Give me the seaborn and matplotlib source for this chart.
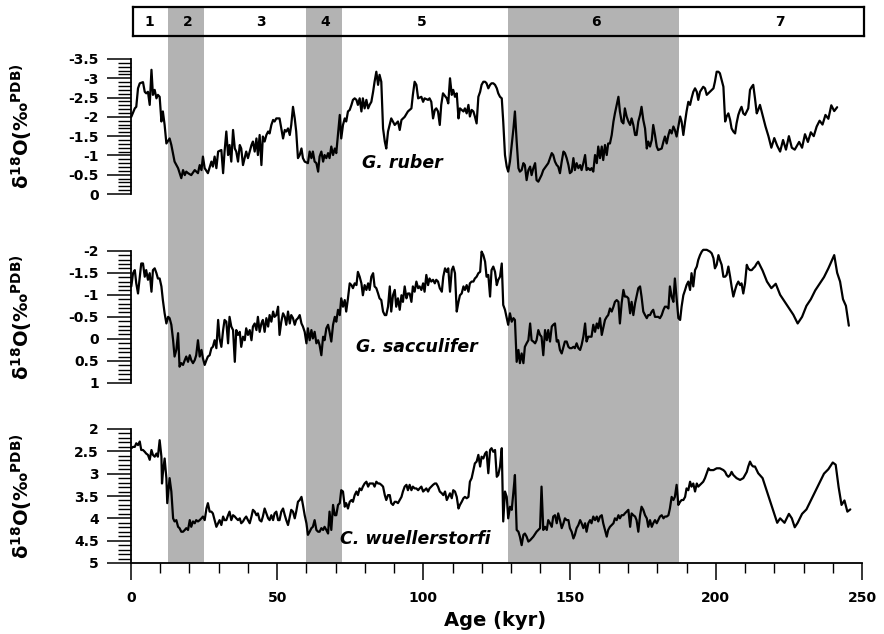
import matplotlib
matplotlib.use("Agg")
import matplotlib.pyplot as plt
import seaborn as sns
import pandas as pd
from matplotlib.ticker import MultipleLocator

# ---------------- data ----------------
# MIS stages
mis_labels = ["1", "2", "3", "4", "5", "6", "7"]
mis_bounds = [0, 12.6, 25.0, 60.0, 72.0, 129.0, 187.3, 250]
mis_label_x = [6.2, 19.5, 44.6, 66.3, 99.6, 158.9, 222.0]
mis_shaded = [False, True, False, True, False, True, False]

# G. ruber
ruber_age_a = [0.1, 1.3, 1.8, 2.4, 3.0, 4.1, 4.7, 5.2, 5.8, 6.4,
               7.0, 7.5, 8.1, 8.7, 9.2, 9.8, 10.4, 10.9, 11.5, 12.1,
               13.2, 13.8, 14.9, 16.1, 17.2, 17.8, 18.4, 18.9, 19.5, 20.6,
               21.8, 22.9, 23.5, 24.1, 24.6, 25.2, 26.3, 27.5, 28.0, 28.6,
               29.2, 29.8, 30.9, 31.5, 32.0, 32.6, 33.2, 33.7, 34.3, 34.9,
               35.5, 36.0, 36.6, 37.2, 37.7, 38.3, 39.4, 40.0, 41.2, 41.7,
               42.3, 42.9, 43.4, 44.0, 44.6, 45.1, 45.7, 46.3, 46.9, 47.4,
               48.0, 48.6, 49.1, 49.7, 50.8, 51.4, 52.0, 52.6, 53.1, 53.7,
               54.3, 54.8, 55.4, 56.0, 56.5, 57.1, 57.7, 58.3, 58.8, 59.4,
               60.5, 61.1, 61.7, 62.2, 62.8, 63.4, 64.0, 64.5, 65.1, 65.7,
               66.2, 66.8, 67.4, 67.9, 68.5, 69.1, 69.7, 70.2, 70.8, 71.4,
               71.9, 72.5, 73.1, 73.6, 74.2, 74.8, 75.4, 75.9, 76.5, 77.1,
               77.6, 78.2, 78.8, 79.3, 79.9, 80.5, 81.1, 81.6, 82.2, 82.8,
               83.3, 83.9, 84.5, 85.0, 85.6, 86.2, 86.8, 87.3, 87.9, 89.0,
               90.2, 91.3, 91.9, 92.5, 93.6, 94.7, 95.9, 96.4, 97.0, 97.6,
               98.2, 99.3, 99.9, 100.4, 101.6, 102.1, 102.7, 103.3, 103.9, 104.4,
               105.0, 105.6, 106.1, 106.7]
ruber_val_a = [-2.00, -2.22, -2.26, -2.74, -2.87, -2.90, -2.65, -2.61, -2.65, -2.31,
               -3.22, -2.57, -2.70, -2.48, -2.57, -2.52, -1.88, -2.14, -1.79, -1.31,
               -1.44, -1.27, -0.84, -0.67, -0.41, -0.62, -0.49, -0.58, -0.54, -0.49,
               -0.62, -0.54, -0.75, -0.62, -0.97, -0.67, -0.54, -0.84, -0.71, -0.97,
               -0.67, -1.10, -1.14, -0.54, -1.10, -1.62, -1.01, -1.27, -0.84, -1.66,
               -1.18, -1.10, -0.84, -1.27, -1.18, -0.75, -1.10, -0.93, -1.27, -1.36,
               -1.10, -1.44, -1.01, -1.53, -0.75, -1.49, -1.36, -1.53, -1.62, -1.57,
               -1.79, -1.92, -1.88, -1.96, -1.96, -1.70, -1.44, -1.66, -1.62, -1.70,
               -1.53, -1.79, -2.26, -1.96, -1.62, -0.93, -1.01, -1.18, -0.93, -0.84,
               -0.80, -1.10, -0.93, -1.10, -0.84, -0.80, -0.58, -0.97, -1.10, -0.84,
               -1.01, -0.93, -1.06, -0.93, -1.23, -1.01, -1.18, -1.06, -1.57, -2.05,
               -1.44, -1.79, -1.96, -1.88, -2.14, -2.18, -2.31, -2.44, -2.48, -2.44,
               -2.31, -2.48, -2.14, -2.48, -2.22, -2.44, -2.22, -2.31, -2.39, -2.65,
               -2.91, -3.17, -2.83, -3.09, -2.91, -1.70, -1.36, -1.18, -1.62, -1.96,
               -1.79, -1.88, -1.66, -1.92, -2.00, -2.14, -2.22, -2.57, -2.91, -2.83,
               -2.48, -2.52, -2.39, -2.48, -2.44, -2.48, -2.39, -1.96, -2.18, -2.22,
               -2.14, -1.79, -2.31, -2.61]
ruber_age_b = [108.0, 108.5, 109.1, 109.7, 110.2, 110.8, 111.4, 112.0, 112.5, 113.1,
               113.7, 114.2, 114.8, 115.4, 115.9, 116.5, 117.1, 117.6, 118.2, 118.8,
               119.4, 119.9, 120.5, 121.1, 121.6, 122.2, 122.8, 123.3, 123.9, 124.5,
               125.1, 125.6, 126.2, 126.8, 127.3, 127.9, 128.5, 129.0, 129.6, 130.2,
               130.8, 131.3, 131.9, 132.5, 133.0, 133.6, 134.2, 134.7, 135.3, 135.9,
               136.5, 137.0, 137.6, 138.2, 138.7, 139.3, 140.4, 141.0, 142.2, 142.7,
               143.3, 143.9, 144.4, 145.0, 145.6, 146.1, 146.7, 147.3, 147.9, 148.4,
               149.0, 149.6, 150.1, 150.7, 151.3, 151.8, 152.4, 153.0, 153.6, 154.1,
               154.7, 155.3, 155.8, 156.4, 157.0, 157.5, 158.1, 158.7, 159.3, 159.8,
               160.4, 161.0, 161.5, 162.1, 162.7, 163.2, 163.8, 164.4, 165.0, 165.5,
               166.1, 166.7, 167.2, 167.8, 168.4, 168.9, 169.5, 170.1, 170.7, 171.2,
               171.8, 172.4, 172.9, 173.5, 174.1, 174.6, 175.2, 175.8, 176.4, 176.9,
               177.5, 178.1, 178.6, 179.2, 179.8, 180.3, 181.5, 182.1, 182.6, 183.2,
               183.8, 184.3, 184.9, 185.5, 186.0, 186.6, 187.2, 187.8, 188.3, 188.9,
               189.5, 190.0, 190.6, 191.2, 191.7, 192.3, 192.9, 193.5, 194.0, 194.6,
               195.7, 196.3, 196.9, 198.0, 199.2, 199.7, 200.3, 200.9, 201.4, 202.0,
               202.6, 203.2, 203.7, 204.3, 204.9, 205.4, 206.0, 206.6, 207.1, 207.7,
               208.3, 208.8, 209.4, 210.0, 210.6, 211.1, 211.7, 212.3, 212.8, 213.4,
               214.0, 214.5, 215.1,
               216.0, 217.0, 218.0, 219.0, 220.0, 221.0, 222.0, 223.0, 224.0, 225.0,
               226.0, 227.0, 228.5, 229.5, 230.5, 231.5, 232.5, 233.5, 234.5, 235.5,
               236.5, 237.5, 238.5, 239.5, 240.5, 241.5]
ruber_val_b = [-2.48, -2.35, -3.00, -2.57, -2.70, -2.52, -2.61, -1.96, -2.22, -2.18,
               -2.14, -2.22, -2.09, -2.31, -2.01, -2.18, -2.14, -2.01, -1.83, -2.52,
               -2.65, -2.83, -2.91, -2.91, -2.87, -2.74, -2.83, -2.87, -2.87, -2.83,
               -2.74, -2.61, -2.52, -2.48, -1.88, -1.01, -0.71, -0.58, -0.84, -1.27,
               -1.70, -2.14, -1.36, -0.67, -0.58, -0.62, -0.80, -0.75, -0.36, -0.62,
               -0.71, -0.49, -0.67, -0.80, -0.36, -0.32, -0.49, -0.62, -0.75, -0.80,
               -0.93, -1.06, -1.01, -0.84, -0.75, -0.71, -0.54, -0.84, -1.10, -1.06,
               -0.93, -0.75, -0.54, -0.58, -0.93, -0.62, -0.80, -0.67, -0.75, -0.62,
               -0.80, -1.01, -0.62, -0.67, -0.62, -0.67, -0.58, -1.01, -0.80, -1.23,
               -0.93, -1.23, -0.88, -1.27, -1.01, -1.31, -1.31, -1.53, -1.88, -2.09,
               -2.31, -2.52, -2.14, -1.88, -1.83, -2.22, -2.01, -1.88, -1.79, -1.96,
               -1.79, -1.53, -1.53, -1.88, -2.05, -2.26, -1.92, -1.70, -1.18, -1.36,
               -1.23, -1.40, -1.79, -1.53, -1.23, -1.14, -1.18, -1.36, -1.49, -1.31,
               -1.53, -1.66, -1.57, -1.75, -1.66, -1.49, -1.75, -2.01, -1.88, -1.53,
               -1.88, -2.14, -2.39, -2.31, -2.48, -2.65, -2.74, -2.65, -2.44, -2.65,
               -2.78, -2.74, -2.57, -2.65, -2.74, -2.91, -3.17, -3.17, -3.13, -2.96,
               -2.78, -1.88, -2.01, -2.09, -1.92, -1.70, -1.62, -1.57, -1.83, -2.05,
               -2.18, -2.26, -2.09, -2.05, -2.14, -2.22, -2.70, -2.78, -2.83, -2.48,
               -2.09, -2.18, -2.31,
               -2.05, -1.75, -1.50, -1.20, -1.45, -1.25, -1.10, -1.40, -1.15, -1.50,
               -1.20, -1.15, -1.35, -1.20, -1.55, -1.35, -1.60, -1.50, -1.75, -1.90,
               -1.80, -2.05, -1.95, -2.30, -2.15, -2.25]

# G. sacculifer
sacc_age_a = [0.1, 0.7, 1.3, 1.8, 2.4, 3.0, 3.5, 4.1, 4.7, 5.2,
              5.8, 6.4, 7.0, 7.5, 8.1, 8.7, 9.2, 9.8, 10.4, 10.9,
              11.5, 12.1, 12.7, 13.2, 13.8, 14.4, 14.9, 15.5, 16.1, 16.6,
              17.2, 17.8, 18.4, 18.9, 19.5, 20.1, 20.6, 21.2, 21.8, 22.3,
              22.9, 23.5, 24.1, 24.6, 25.2, 25.8, 26.3, 26.9, 27.5, 28.0,
              28.6, 29.2, 29.8, 30.3, 30.9, 31.5, 32.0, 32.6, 33.2, 33.7,
              34.3, 34.9, 35.5, 36.0, 36.6, 37.2, 37.7, 38.3, 38.9, 39.4,
              40.0, 40.6, 41.2, 41.7, 42.3, 42.9, 43.4, 44.0, 44.6, 45.1,
              45.7, 46.3, 46.9, 47.4, 48.0, 48.6, 49.1, 49.7, 50.3, 50.8,
              51.4, 52.0, 52.6, 53.1, 53.7, 54.3, 54.8, 55.4, 56.0, 56.5,
              57.1, 57.7, 58.3, 58.8, 59.4, 60.0, 60.5, 61.1, 61.7, 62.2,
              62.8, 63.4, 64.0, 64.5, 65.1, 65.7, 66.2, 66.8, 67.4, 67.9,
              68.5, 69.1, 69.7, 70.2, 70.8, 71.4, 71.9, 72.5, 73.1, 73.6,
              74.2, 74.8, 75.4, 75.9, 76.5, 77.1, 77.6, 78.2, 78.8, 79.3,
              79.9, 80.5, 81.1, 81.6, 82.2, 82.8, 83.3, 83.9, 84.5, 85.0,
              85.6, 86.2, 86.8, 87.3, 87.9, 88.5, 89.0, 89.6, 90.2, 90.7,
              91.3, 91.9, 92.5, 93.0, 93.6, 94.2, 94.7, 95.3, 95.9, 96.4,
              97.0, 97.6, 98.2, 98.7, 99.3, 99.9, 100.4, 101.0, 101.6, 102.1,
              102.7, 103.3, 103.9, 104.4, 105.0, 105.6]
sacc_val_a = [-1.19, -1.49, -1.56, -1.26, -1.03, -1.41, -1.71, -1.71, -1.41, -1.56,
              -1.34, -1.49, -1.07, -1.56, -1.60, -1.49, -1.37, -1.37, -1.19, -0.88,
              -0.58, -0.35, -0.50, -0.47, -0.32, 0.03, 0.40, 0.25, -0.13, 0.63,
              0.55, 0.59, 0.48, 0.40, 0.52, 0.37, 0.48, 0.55, 0.48, 0.37,
              0.03, 0.40, 0.25, 0.44, 0.59, 0.48, 0.40, 0.37, 0.21, 0.18,
              0.03, 0.21, -0.43, -0.01, 0.18, -0.20, -0.43, -0.39, 0.10, -0.50,
              -0.28, -0.20, 0.52, -0.20, -0.09, -0.16, 0.18, -0.05, 0.03, -0.24,
              -0.09, -0.20, 0.03, -0.28, -0.35, -0.20, -0.50, -0.16, -0.35, -0.43,
              -0.16, -0.47, -0.28, -0.54, -0.39, -0.62, -0.50, -0.54, -0.73, -0.09,
              -0.39, -0.58, -0.50, -0.32, -0.62, -0.35, -0.54, -0.47, -0.32, -0.43,
              -0.47, -0.54, -0.35, -0.28, -0.16, 0.10, -0.24, 0.03, -0.20, -0.01,
              -0.16, 0.10, 0.03, 0.14, 0.37, -0.05, 0.03, -0.24, -0.32, -0.16,
              0.06, -0.32, -0.50, -0.39, -0.66, -0.54, -0.92, -0.73, -0.88, -0.62,
              -0.92, -1.26, -1.22, -1.15, -1.26, -1.22, -1.52, -1.41, -1.26, -0.99,
              -1.22, -1.11, -1.26, -1.11, -1.41, -1.49, -1.19, -1.15, -1.03, -0.92,
              -0.88, -0.62, -0.54, -0.54, -0.73, -1.19, -0.62, -0.99, -1.11, -0.73,
              -0.92, -0.66, -0.99, -0.84, -1.19, -0.92, -1.03, -1.03, -0.84, -1.19,
              -1.07, -1.30, -1.15, -1.19, -1.11, -1.26, -1.07, -1.45, -1.22, -1.37,
              -1.30, -1.34, -1.26, -1.34, -1.30, -1.15]
sacc_age_b = [106.3, 106.8, 107.4, 108.0, 108.5, 109.1, 109.7, 110.2, 110.8, 111.4,
              112.0, 112.5, 113.1, 113.7, 114.2, 114.8, 115.4, 115.9, 116.5, 117.1,
              117.6, 118.2, 118.8, 119.4, 119.9, 120.5, 121.1, 121.6, 122.2, 122.8,
              123.3, 123.9, 124.5, 125.1, 125.6, 126.2, 126.8, 127.3, 127.9, 128.5,
              129.0, 129.6, 130.2, 130.8, 131.3, 131.9, 132.5, 133.0, 133.6, 134.2,
              134.7, 135.3, 135.9, 136.5, 137.0, 137.6, 138.2, 138.7, 139.3, 139.9,
              140.4, 141.0, 141.6, 142.2, 142.7, 143.3, 143.9, 144.4, 145.0, 145.6,
              146.1, 146.7, 147.3, 147.9, 148.4, 149.0, 149.6, 150.1, 150.7, 151.3,
              151.8, 152.4, 153.0, 153.6, 154.1, 154.7, 155.3, 155.8, 156.4, 157.0,
              157.5, 158.1, 158.7, 159.3, 159.8, 160.4, 161.0, 161.5, 162.1, 162.7,
              163.2, 163.8, 164.4, 165.0, 165.5, 166.1, 166.7, 167.2, 167.8, 168.4,
              168.9, 169.5, 170.1, 170.7, 171.2, 171.8, 172.4, 172.9, 173.5, 174.1,
              174.6, 175.2, 175.8, 176.4, 176.9, 177.5, 178.1, 178.6, 179.2, 179.8,
              180.3, 180.9, 181.5, 182.1, 182.6, 183.2, 183.8, 184.3, 184.9, 185.5,
              186.0, 186.6, 187.2, 187.8, 188.3, 188.9, 189.5, 190.0, 190.6, 191.2,
              191.7, 192.3, 192.9, 193.5, 194.0, 194.6, 195.2, 195.7, 196.9, 198.0,
              198.6, 199.2, 199.7, 200.3, 200.9, 201.4, 202.0, 202.6, 203.2, 203.7,
              204.3, 204.9, 205.4, 206.0, 206.6, 207.1, 207.7, 208.3, 208.8, 209.4,
              210.0, 210.6, 211.1, 211.7, 212.3, 212.8, 213.4, 214.0, 214.5,
              216.0, 217.5, 219.0, 220.5, 222.0, 223.5, 225.0, 226.5, 228.0, 229.5,
              231.0, 232.5, 234.0, 235.5, 237.0, 238.5, 239.5, 240.5, 241.5, 242.5,
              243.5, 244.5, 245.5]
sacc_val_b = [-1.07, -1.41, -1.60, -1.52, -1.60, -1.07, -1.56, -1.64, -1.49, -0.62,
              -0.84, -0.99, -1.03, -1.19, -1.11, -1.22, -1.07, -1.26, -1.30, -1.30,
              -1.37, -1.41, -1.49, -1.52, -1.98, -1.90, -1.75, -1.41, -1.45, -0.96,
              -1.56, -1.64, -1.52, -1.22, -1.34, -1.41, -1.71, -0.77, -0.66, -0.47,
              -0.32, -0.58, -0.39, -0.47, -0.43, 0.52, 0.25, 0.55, 0.33, 0.55,
              0.18, 0.10, 0.03, -0.35, 0.03, 0.06, 0.10, 0.03, -0.20, -0.09,
              -0.05, 0.37, -0.20, 0.03, -0.20, 0.06, -0.28, -0.32, -0.35, 0.06,
              0.03, 0.25, 0.33, 0.18, 0.06, 0.06, 0.18, 0.21, 0.21, 0.18,
              0.21, 0.10, 0.21, 0.25, 0.14, -0.05, -0.35, 0.06, -0.05, -0.05,
              -0.05, -0.32, -0.16, -0.35, -0.24, -0.47, -0.09, -0.24, -0.43, -0.50,
              -0.54, -0.69, -0.62, -0.73, -0.84, -0.88, -0.84, -0.35, -0.81, -1.11,
              -0.96, -0.96, -0.92, -0.58, -0.84, -0.54, -0.81, -0.96, -1.15, -1.19,
              -0.96, -0.62, -0.54, -0.47, -0.54, -0.54, -0.62, -0.66, -0.50, -0.50,
              -0.50, -0.47, -0.54, -0.66, -0.73, -0.73, -0.69, -1.19, -0.96, -0.84,
              -1.37, -0.92, -0.47, -0.43, -0.73, -0.99, -1.11, -1.22, -1.30, -1.11,
              -1.49, -1.19, -1.56, -1.64, -1.79, -1.90, -1.98, -2.02, -2.02, -1.98,
              -1.94, -1.83, -1.60, -1.68, -1.90, -1.79, -1.68, -1.41, -1.41, -1.45,
              -1.64, -1.41, -1.19, -0.96, -1.11, -1.22, -1.30, -1.22, -1.26, -1.03,
              -1.26, -1.68, -1.60, -1.56, -1.56, -1.60, -1.64, -1.71, -1.75,
              -1.55, -1.30, -1.15, -1.25, -1.00, -0.85, -0.70, -0.55, -0.35, -0.50,
              -0.75, -0.90, -1.10, -1.25, -1.40, -1.60, -1.75, -1.90, -1.50, -1.30,
              -0.90, -0.75, -0.30]

# C. wuellerstorfi
wuel_age_a = [0.1, 0.7, 1.3, 1.8, 2.4, 3.0, 3.5, 4.1, 4.7, 5.2,
              5.8, 6.4, 7.0, 7.5, 8.1, 8.7, 9.2, 9.8, 10.4, 10.6,
              10.9, 11.5, 12.1, 12.4, 13.2, 13.8, 14.4, 14.9, 15.5, 16.1,
              16.6, 17.2, 17.8, 18.4, 18.9, 19.5, 20.1, 20.6, 21.2, 21.8,
              22.3, 22.9, 23.5, 24.1, 24.6, 25.2, 25.8, 26.3, 26.9, 27.5,
              28.0, 28.6, 29.2, 29.8, 30.3, 30.9, 31.5, 32.0, 32.6, 33.2,
              33.7, 34.3, 34.9, 35.5, 36.0, 36.6, 37.2, 37.7, 38.3, 38.9,
              39.4, 40.0, 40.6, 41.2, 41.7, 42.3, 42.9, 43.4, 44.0, 44.6,
              45.1, 45.7, 46.3, 46.9, 47.4, 48.0, 48.6, 49.1, 49.7, 50.3,
              50.8, 51.4, 52.0, 52.6, 53.1, 53.7, 54.3, 54.8, 55.4, 56.0,
              56.5, 57.1, 57.7, 58.3, 58.8, 59.4, 60.0, 60.5, 61.1, 61.7,
              62.2, 62.8, 63.4, 64.0, 64.5, 65.1, 65.7, 66.2, 66.8, 67.4,
              67.9, 68.5, 69.1, 69.7, 70.2, 70.8, 71.4, 71.9, 72.5, 73.1,
              73.6, 74.2, 74.8, 75.4, 75.9, 76.5, 77.1, 77.6, 78.2, 78.8,
              79.3, 79.9, 80.5, 81.1, 81.6, 82.2, 82.8, 83.3, 83.9, 84.5,
              85.0, 85.6, 86.2, 86.8, 87.3, 87.9, 88.5, 89.0, 89.6, 90.2,
              90.7, 91.3, 91.9, 92.5, 93.0, 93.6, 94.2, 94.7, 95.3, 95.9,
              96.4, 97.0, 97.6, 98.2, 98.7, 99.3, 99.9, 100.4, 101.0, 101.6,
              102.1, 102.7, 103.3, 103.9, 104.4, 105.0, 105.6]
wuel_val_a = [2.43, 2.40, 2.40, 2.32, 2.36, 2.28, 2.47, 2.47, 2.51, 2.55,
              2.58, 2.69, 2.47, 2.58, 2.62, 2.55, 2.62, 2.25, 2.62, 3.22,
              2.99, 2.66, 3.10, 3.66, 3.10, 3.40, 4.00, 4.07, 4.04, 4.19,
              4.22, 4.30, 4.30, 4.26, 4.22, 4.26, 4.04, 4.19, 4.07, 4.11,
              4.04, 4.07, 4.04, 4.00, 3.96, 4.04, 3.78, 3.66, 3.85, 3.85,
              3.89, 4.04, 4.19, 4.11, 4.04, 4.15, 3.96, 4.04, 4.04, 3.93,
              3.85, 4.04, 3.93, 3.96, 4.00, 4.04, 4.00, 4.11, 4.07, 4.00,
              3.96, 4.04, 4.11, 3.96, 3.81, 3.85, 3.93, 3.89, 4.04, 4.07,
              3.96, 3.78, 3.89, 4.00, 4.04, 3.93, 4.04, 3.89, 3.85, 4.04,
              4.04, 3.85, 3.78, 3.93, 4.04, 4.15, 3.96, 3.81, 3.85, 4.00,
              3.85, 3.63, 3.59, 3.52, 3.70, 3.93, 4.11, 4.37, 4.30, 4.22,
              4.19, 4.04, 4.26, 4.30, 4.30, 4.22, 4.26, 4.19, 4.26, 4.34,
              3.85, 4.26, 3.70, 3.93, 3.93, 3.70, 3.66, 3.37, 3.40, 3.74,
              3.66, 3.78, 3.63, 3.59, 3.63, 3.48, 3.40, 3.48, 3.33, 3.37,
              3.29, 3.22, 3.18, 3.29, 3.22, 3.22, 3.22, 3.29, 3.18, 3.22,
              3.22, 3.25, 3.29, 3.48, 3.59, 3.48, 3.48, 3.66, 3.70, 3.63,
              3.63, 3.66, 3.59, 3.52, 3.40, 3.29, 3.25, 3.37, 3.25, 3.37,
              3.29, 3.33, 3.33, 3.37, 3.33, 3.29, 3.40, 3.37, 3.33, 3.40,
              3.33, 3.29, 3.25, 3.22, 3.22, 3.29, 3.40]
wuel_age_b = [106.3, 106.8, 107.4, 108.0, 108.5, 109.1, 109.7, 110.2, 110.8, 111.4,
              112.0, 112.5, 113.1, 113.7, 114.2, 114.8, 115.4, 115.9, 116.5, 117.1,
              117.6, 118.2, 118.8, 119.4, 119.9, 120.5, 121.1, 121.6, 122.2, 122.8,
              123.3, 123.9, 124.5, 125.1, 125.6, 126.2, 126.8, 127.3, 127.9, 128.5,
              129.0, 129.6, 130.2, 130.8, 131.3, 131.9, 132.5, 133.0, 133.6, 134.2,
              134.7, 135.3, 135.9, 136.5, 137.6, 138.7, 139.9, 140.4, 141.0, 141.6,
              142.2, 142.7, 143.3, 143.9, 144.4, 145.0, 145.6, 146.1, 146.7, 147.3,
              147.9, 148.4, 149.0, 149.6, 150.1, 150.7, 151.3, 151.8, 152.4, 153.0,
              153.6, 154.1, 154.7, 155.3, 155.8, 156.4, 157.0, 157.5, 158.1, 158.7,
              159.3, 159.8, 160.4, 161.0, 161.5, 162.1, 162.7, 163.2, 163.8, 164.4,
              165.0, 165.5, 166.1, 166.7, 167.2, 167.8, 168.4, 168.9, 169.5, 170.1,
              170.7, 171.2, 171.8, 172.4, 172.9, 173.5, 174.1, 174.6, 175.2, 175.8,
              176.4, 176.9, 177.5, 178.1, 178.6, 179.2, 179.8, 180.3, 180.9, 181.5,
              182.1, 182.6, 183.2, 183.8, 184.3, 184.9, 185.5, 186.0, 186.6, 187.2,
              187.8, 188.3, 188.9, 189.5, 190.0, 190.6, 191.2, 191.7, 192.3, 192.9,
              193.5, 194.0, 194.6, 195.7, 196.3, 196.9, 197.5, 198.0, 199.2, 200.3,
              201.4, 202.6, 203.2, 203.7, 204.3, 204.9, 205.4, 206.0, 206.6, 207.1,
              208.3, 209.4, 210.0, 210.6, 211.1, 211.7, 212.3, 212.8, 213.4, 214.0,
              214.5,
              216.0, 217.5, 219.0, 220.0, 221.0, 222.0, 223.5, 225.0, 226.0, 227.0,
              228.0, 229.5, 231.0, 232.5, 234.0, 235.5, 237.0, 238.5, 240.0, 241.0,
              242.0, 243.0, 244.0, 245.0, 246.0]
wuel_val_b = [3.44, 3.48, 3.40, 3.59, 3.52, 3.44, 3.55, 3.37, 3.40, 3.52,
              3.78, 3.70, 3.63, 3.55, 3.52, 3.55, 3.52, 3.18, 3.10, 2.92,
              2.77, 2.73, 2.58, 2.84, 2.62, 2.66, 2.55, 2.51, 2.99, 2.47,
              2.43, 2.51, 2.47, 3.07, 3.03, 2.84, 2.43, 4.07, 3.40, 3.52,
              4.00, 3.74, 3.81, 3.40, 3.03, 4.26, 4.30, 4.41, 4.60, 4.37,
              4.34, 4.41, 4.52, 4.49, 4.41, 4.30, 4.22, 3.29, 4.26, 4.19,
              4.26, 4.04, 4.11, 4.19, 3.96, 3.93, 4.11, 3.89, 4.04, 4.22,
              4.11, 4.00, 4.04, 4.04, 4.22, 4.30, 4.45, 4.37, 4.22, 4.15,
              4.04, 4.11, 4.22, 4.11, 4.30, 4.11, 4.04, 4.11, 3.96, 4.04,
              3.96, 4.07, 3.96, 3.93, 4.11, 4.26, 4.41, 4.26, 4.19, 4.15,
              4.11, 4.00, 4.04, 3.93, 4.00, 3.93, 3.93, 3.89, 3.85, 3.81,
              4.19, 3.89, 3.93, 3.96, 4.04, 4.30, 3.93, 3.74, 3.81, 3.93,
              4.00, 4.19, 4.04, 4.19, 4.11, 4.04, 4.11, 4.04, 3.96, 3.93,
              4.00, 3.96, 3.96, 3.93, 3.78, 3.52, 3.59, 3.52, 3.25, 3.70,
              3.63, 3.59, 3.59, 3.52, 3.33, 3.37, 3.18, 3.29, 3.22, 3.40,
              3.22, 3.29, 3.25, 3.18, 3.10, 2.99, 2.88, 2.92, 2.92, 2.88,
              2.88, 2.92, 2.96, 3.03, 3.07, 3.03, 2.96, 3.03, 3.07, 3.10,
              3.14, 3.10, 3.03, 2.96, 2.84, 2.73, 2.81, 2.84, 2.84, 2.92,
              2.99,
              3.10, 3.40, 3.70, 3.90, 4.10, 4.00, 4.10, 3.90, 4.00, 4.20,
              4.10, 3.90, 3.80, 3.60, 3.40, 3.20, 3.00, 2.90, 2.75, 2.80,
              3.30, 3.70, 3.60, 3.85, 3.80]

species = ["G. ruber", "G. sacculifer", "C. wuellerstorfi"]
y_limits = [(0, -3.5), (1, -2), (5, 2)]
y_ticks = [[0, -0.5, -1, -1.5, -2, -2.5, -3, -3.5],
           [1, 0.5, 0, -0.5, -1, -1.5, -2],
           [5, 4.5, 4, 3.5, 3, 2.5, 2]]
y_ticklabels = [["0", "-0.5", "-1", "-1.5", "-2", "-2.5", "-3", "-3.5"],
                ["1", "0.5", "0", "-0.5", "-1", "-1.5", "-2"],
                ["5", "4.5", "4", "3.5", "3", "2.5", "2"]]
x_ticks = [0, 50, 100, 150, 200, 250]

# ---------------- style ----------------
sns.set_style("white")
plt.rcParams["font.family"] = ["DejaVu Sans"]
plt.rcParams["font.weight"] = "bold"
plt.rcParams["axes.unicode_minus"] = False
plt.rcParams["mathtext.default"] = "regular"
for key in ["text.color", "axes.labelcolor", "xtick.color", "ytick.color", "axes.edgecolor"]:
    plt.rcParams[key] = "black"

W, H = 884, 634
fig = plt.figure(figsize=(W / 100, H / 100), dpi=100)


def rect(x0, y0, x1, y1):
    return [x0 / W, 1 - y1 / H, (x1 - x0) / W, (y1 - y0) / H]


SHADE = "#b3b3b3"

# background shading axes
bg = fig.add_axes(rect(131, 8, 862, 563))
bg.set_xlim(0, 250)
bg.set_ylim(0, 1)
bg.axis("off")
for i, sh in enumerate(mis_shaded):
    if sh:
        bg.axvspan(mis_bounds[i], mis_bounds[i + 1], color=SHADE, lw=0)

# MIS box
bx0, bx1 = 133, 864
box = fig.add_axes(rect(bx0, 7, bx1, 36))
box.set_facecolor("none")
box.set_xlim((bx0 - 131) / 2.924, (bx1 - 131) / 2.924)
box.set_ylim(0, 1)
box.set_xticks([])
box.set_yticks([])
for s in box.spines.values():
    s.set_visible(True)
    s.set_linewidth(1.6)
    s.set_color("black")
for lab, xc in zip(mis_labels, mis_label_x):
    box.text(xc, 0.5, lab, ha="center", va="center", fontsize=10, fontweight="bold")

series = [(ruber_age_a + ruber_age_b, ruber_val_a + ruber_val_b),
          (sacc_age_a + sacc_age_b, sacc_val_a + sacc_val_b),
          (wuel_age_a + wuel_age_b, wuel_val_a + wuel_val_b)]
panel_px = [(59, 194), (250.7, 383), (429, 563)]
label_pos = [(79, -0.80), (77, 0.18), (71.5, 4.46)]

ylab = r"$\delta^{18}$" + "O(‰" + r"$^{\mathbf{PDB)}}$"

for i, ((ages, vals), (y0, y1)) in enumerate(zip(series, panel_px)):
    ax = fig.add_axes(rect(131, y0, 862, y1))
    ax.set_facecolor("none")
    df = pd.DataFrame({"age": ages, "d18O": vals})
    sns.lineplot(data=df, x="age", y="d18O", ax=ax, color="black", lw=1.6,
                 estimator=None, sort=False, clip_on=False)
    ax.set_xlim(0, 250)
    ax.set_ylim(*y_limits[i])
    ax.set_yticks(y_ticks[i])
    ax.set_yticklabels(y_ticklabels[i], fontsize=10, fontweight="bold")
    ax.yaxis.set_minor_locator(MultipleLocator(0.1))
    ax.tick_params(axis="y", which="major", direction="out", length=17, width=1.1, pad=6, left=True)
    ax.tick_params(axis="y", which="minor", direction="out", length=9.4, width=1.0, left=True)
    ax.set_xlabel("")
    ax.set_ylabel("")
    for side in ["top", "right"]:
        ax.spines[side].set_visible(False)
    ax.spines["left"].set_linewidth(1.3)
    ax.spines["left"].set_color("black")
    if i < 2:
        ax.spines["bottom"].set_visible(False)
        ax.set_xticks([])
    else:
        ax.spines["bottom"].set_linewidth(1.3)
        ax.spines["bottom"].set_color("black")
        ax.set_xticks(x_ticks)
        ax.set_xticklabels([str(t) for t in x_ticks], fontsize=10, fontweight="bold")
        ax.xaxis.set_minor_locator(MultipleLocator(10))
        ax.tick_params(axis="x", which="major", direction="out", length=12, width=1.1, pad=8, bottom=True)
        ax.tick_params(axis="x", which="minor", direction="out", length=7, width=1.0, bottom=True)
    lx, ly = label_pos[i]
    ax.text(lx, ly, species[i], style="italic", fontweight="bold", fontsize=12.5,
            ha="left", va="center")
    fig.text(22 / W, 1 - ((y0 + y1) / 2) / H, ylab, rotation=90, ha="center",
             va="center", fontsize=14, fontweight="bold")

fig.text(495 / W, 1 - 620 / H, "Age (kyr)", ha="center", va="center",
         fontsize=14, fontweight="bold")

fig.savefig("out.png", dpi=100)
